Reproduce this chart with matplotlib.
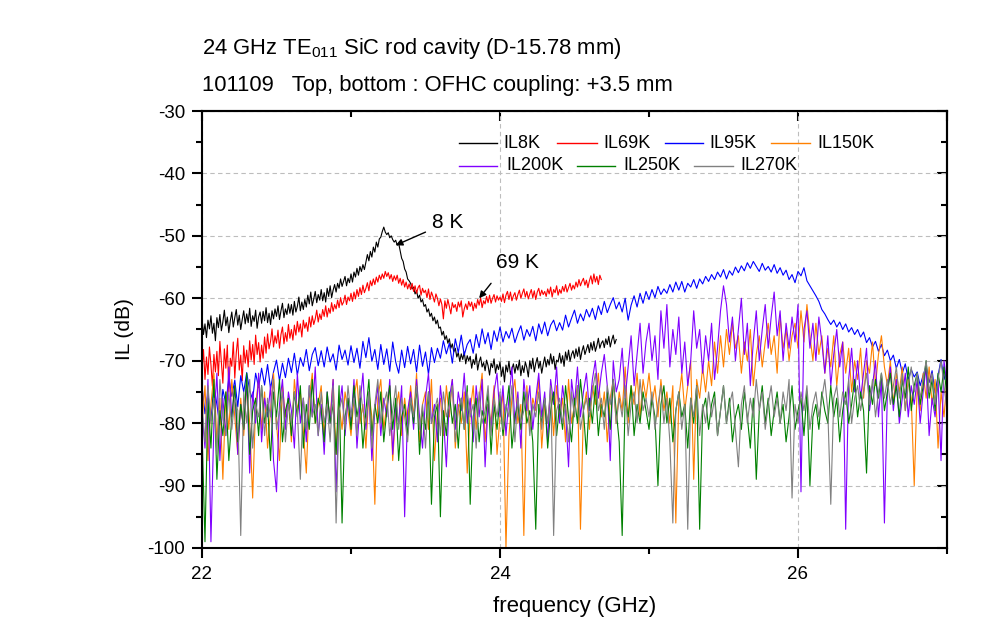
import numpy as np
import matplotlib
matplotlib.use("Agg")
import matplotlib.pyplot as plt
from matplotlib.lines import Line2D

plt.rcParams['font.family'] = ['Liberation Sans', 'DejaVu Sans']
plt.rcParams['mathtext.fontset'] = 'custom'
plt.rcParams['mathtext.rm'] = 'Liberation Sans'
plt.rcParams['mathtext.default'] = 'regular'

# ---------------- data (IL in dB) ----------------
series_labels = ["IL8K", "IL69K", "IL95K", "IL150K", "IL200K", "IL250K", "IL270K"]

f8k_start, f8k_stop = 22.0, 24.78
il_8k = [
    -63.2, -65.8, -64.1, -66.3, -63.5, -64.9, -62.8, -65.6, -64.0, -66.8,
    -63.1, -64.7, -62.6, -65.2, -63.8, -61.9, -64.4, -63.0, -65.5, -63.6,
    -62.2, -64.6, -63.1, -61.8, -64.3, -62.7, -65.0, -63.4, -62.0, -64.1,
    -62.5, -63.9, -61.6, -64.5, -62.8, -63.7, -61.9, -64.8, -63.0, -62.2,
    -64.0, -62.1, -63.6, -61.5, -63.9, -62.4, -64.2, -62.0, -63.3, -61.7,
    -62.9, -61.2, -63.4, -62.0, -60.8, -63.1, -61.7, -62.6, -60.9, -62.4,
    -61.0, -62.7, -60.5, -62.2, -61.3, -59.8, -62.0, -60.6, -61.8, -60.2,
    -61.4, -59.5, -60.9, -59.0, -61.2, -60.1, -58.9, -60.7, -59.4, -60.3,
    -58.6, -60.4, -59.1, -60.6, -58.4, -59.7, -58.0, -59.9, -58.7, -57.8,
    -59.0, -57.6, -58.4, -56.9, -58.1, -57.3, -56.5, -58.0, -56.8, -57.5,
    -56.1, -57.4, -55.8, -56.6, -55.2, -56.3, -54.9, -55.7, -54.6, -55.4,
    -54.2, -53.0, -54.0, -52.5, -53.4, -51.8, -52.6, -51.0, -51.8, -50.5,
    -50.2, -49.3, -48.6, -49.4, -49.8, -49.5, -50.3, -50.0, -50.6, -51.0,
    -50.7, -51.5, -51.2, -52.4, -53.6, -54.1, -55.3, -55.8, -56.9, -57.2,
    -57.6, -58.5, -58.2, -59.3, -58.8, -60.0, -59.5, -60.6, -60.2, -61.3,
    -61.0, -62.2, -61.7, -62.9, -62.4, -63.6, -63.0, -64.1, -63.5, -64.8,
    -64.6, -65.9, -65.3, -66.6, -66.0, -67.2, -66.5, -68.0, -67.3, -68.6,
    -68.0, -69.4, -68.7, -70.1, -68.9, -69.8, -68.6, -70.5, -69.2, -70.0,
    -69.3, -71.2, -69.8, -70.6, -68.9, -71.5, -70.2, -69.4, -71.0, -70.3,
    -71.6, -69.9, -70.8, -72.3, -70.4, -71.1, -69.7, -72.0, -70.6, -71.4,
    -70.2, -72.5, -71.0, -73.4, -70.7, -71.8, -70.1, -72.2, -71.3, -70.5,
    -72.0, -70.6, -71.5, -69.9, -72.4, -70.8, -71.9, -70.2, -71.1, -72.6,
    -70.0, -71.3, -69.6, -71.8, -70.4, -69.5, -71.2, -70.1, -72.0, -70.6,
    -69.4, -71.0, -69.8, -70.7, -68.9, -70.5, -69.3, -71.4, -69.9, -70.2,
    -68.8, -70.4, -69.2, -70.9, -68.6, -69.9, -68.3, -70.1, -69.0, -68.4,
    -69.6, -68.1, -69.3, -67.8, -69.8, -68.5, -67.6, -69.0, -68.2, -67.4,
    -68.7, -67.1, -68.3, -66.9, -68.5, -67.6, -66.4, -68.0, -67.2, -66.8,
    -67.9, -66.5, -67.4, -66.1, -67.8, -66.7, -65.9, -67.3, -66.6,
]

f69k_start, f69k_stop = 22.0, 24.68
il_69k = [
    -71.5, -68.2, -73.0, -69.4, -72.2, -67.8, -70.6, -74.1, -69.0, -71.8,
    -68.5, -72.4, -66.9, -70.3, -73.6, -68.1, -71.2, -67.5, -75.0, -69.6,
    -70.9, -67.0, -72.8, -68.7, -66.4, -71.5, -69.1, -73.2, -67.6, -70.4,
    -68.3, -71.0, -66.8, -69.9, -67.4, -70.6, -65.9, -69.0, -67.1, -70.2,
    -67.5, -69.6, -66.2, -68.8, -65.7, -68.1, -66.9, -64.9, -67.8, -66.0,
    -67.2, -65.1, -68.0, -65.8, -64.6, -67.3, -65.5, -66.9, -64.2, -66.4,
    -65.0, -66.7, -64.3, -65.9, -63.7, -65.4, -64.1, -66.2, -63.5, -64.8,
    -63.9, -65.3, -63.0, -64.6, -62.8, -64.2, -63.3, -61.9, -63.8, -62.5,
    -63.4, -61.8, -62.9, -61.2, -63.0, -61.6, -62.4, -60.7, -62.1, -61.0,
    -61.7, -60.3, -61.5, -59.9, -61.1, -60.6, -59.5, -61.0, -59.8, -60.4,
    -59.2, -60.5, -59.0, -60.1, -58.6, -59.7, -58.3, -59.4, -57.9, -59.1,
    -58.4, -57.5, -58.8, -57.2, -58.0, -56.9, -57.8, -56.6, -57.4, -56.3,
    -57.0, -56.1, -56.8, -55.7, -56.5, -55.9, -56.9, -56.2, -57.3, -56.4,
    -57.1, -56.3, -57.6, -56.8, -57.9, -57.0, -58.2, -57.4, -58.5, -57.7,
    -58.6, -57.6, -58.9, -58.0, -59.2, -58.3, -57.9, -59.5, -58.4, -59.1,
    -58.7, -59.9, -58.5, -60.2, -59.0, -59.7, -60.6, -59.3, -60.0, -61.2,
    -60.1, -61.0, -63.3, -60.4, -61.6, -60.2, -61.3, -62.5, -60.7, -61.5,
    -61.0, -62.1, -60.6, -61.4, -60.4, -63.0, -61.7, -60.9, -61.8, -60.5,
    -61.3, -60.6, -62.0, -60.8, -61.6, -60.2, -61.1, -59.9, -61.5, -60.4,
    -60.9, -59.7, -60.7, -59.5, -60.8, -60.0, -59.4, -60.6, -59.6, -60.3,
    -59.8, -60.5, -59.3, -60.7, -59.5, -58.9, -60.2, -59.0, -60.4, -59.6,
    -59.1, -60.3, -59.4, -58.7, -60.0, -59.2, -58.5, -59.8, -58.9, -60.1,
    -59.3, -58.6, -59.9, -58.8, -60.2, -59.0, -58.4, -59.6, -58.7, -59.4,
    -58.9, -59.7, -58.5, -59.3, -58.2, -59.8, -58.6, -59.1, -58.0, -59.5,
    -58.6, -59.2, -58.1, -58.9, -57.8, -59.0, -58.3, -57.6, -58.7, -57.9,
    -58.5, -57.4, -58.2, -57.0, -58.0, -57.3, -56.8, -57.9, -57.1, -58.3,
    -57.2, -56.4, -57.7, -56.1, -57.4, -56.5, -57.8, -56.3, -57.0,
]

f_start, f_stop = 22.0, 27.0
il_95k = [
    -74.0, -78.5, -75.2, -79.6, -73.8, -77.1, -80.3, -74.6, -76.9, -72.8,
    -75.7, -73.1, -77.4, -72.4, -75.0, -71.9, -74.8, -76.2, -72.0, -74.3,
    -71.2, -73.9, -70.6, -74.5, -71.8, -69.9, -73.2, -70.4, -72.7, -69.6,
    -71.9, -68.8, -72.3, -69.5, -70.9, -68.2, -71.6, -69.0, -67.9, -70.8,
    -68.4, -71.0, -67.8, -70.2, -68.9, -71.5, -67.5, -69.8, -68.3, -70.7,
    -67.6, -70.3, -68.0, -71.2, -66.9, -69.5, -66.3, -70.1, -68.2, -71.4,
    -67.4, -70.6, -68.1, -71.7, -67.0, -70.2, -72.0, -68.3, -71.1, -67.7,
    -70.5, -68.2, -71.8, -67.5, -70.9, -68.6, -72.2, -67.9, -70.3, -68.0,
    -69.6, -66.8, -68.9, -67.2, -70.4, -66.5, -68.7, -65.9, -69.1, -67.4,
    -66.6, -68.8, -65.8, -67.9, -64.9, -67.3, -65.5, -68.2, -65.2, -66.9,
    -64.6, -67.0, -65.3, -66.4, -64.8, -67.1, -65.6, -64.4, -66.7, -65.0,
    -66.1, -64.5, -66.8, -64.1, -65.7, -63.8, -66.0, -64.3, -63.5, -65.2,
    -63.9, -65.1, -62.7, -64.6, -63.2, -61.9, -64.0, -62.5, -63.6, -61.8,
    -63.0, -61.6, -63.4, -61.2, -62.6, -60.5, -62.3, -61.0, -59.9, -61.7,
    -60.6, -62.2, -60.0, -63.5, -61.1, -59.6, -61.4, -59.2, -60.8, -58.9,
    -60.2, -58.6, -59.9, -58.1, -59.4, -58.5, -59.2, -57.8, -59.0, -57.4,
    -58.7, -57.3, -59.0, -57.6, -58.2, -57.0, -58.4, -56.9, -57.7, -56.5,
    -57.3, -56.2, -57.0, -55.8, -56.6, -55.4, -56.9, -55.6, -56.3, -55.0,
    -55.9, -54.8, -55.6, -54.3, -55.2, -54.1, -54.9, -55.7, -54.4, -55.5,
    -54.9, -55.8, -54.6, -56.0, -55.1, -56.3, -55.5, -57.0, -56.2, -57.5,
    -55.7, -56.4, -55.1, -57.2, -58.0, -58.8, -59.6, -60.5, -61.8, -62.5,
    -63.4, -64.2, -63.5, -64.6, -63.8, -65.0, -64.1, -65.4, -64.7, -65.8,
    -65.0, -66.2, -65.4, -67.1, -66.3, -67.8, -66.9, -68.5, -67.4, -69.2,
    -68.3, -70.0, -69.1, -71.2, -69.8, -72.0, -70.5, -73.1, -71.4, -72.6,
    -71.8, -74.0, -72.3, -70.9, -73.5, -71.6, -75.2, -72.4, -69.8, -73.0,
    -71.5,
]

il_150k = [
    -80, -74, -86, -77, -72, -83, -76, -89, -75, -81,
    -73, -79, -85, -76, -82, -74, -80, -92, -77, -73,
    -81, -75, -84, -78, -72, -80, -86, -74, -79, -76,
    -83, -73, -78, -75, -81, -88, -76, -72, -80, -77,
    -74, -82, -76, -79, -73, -85, -77, -81, -75, -78,
    -82, -76, -73, -80, -77, -84, -75, -79, -93, -76,
    -73, -81, -77, -74, -86, -78, -75, -82, -76, -80,
    -74, -79, -72, -83, -77, -75, -81, -73, -86, -78,
    -76, -82, -74, -79, -73, -84, -77, -80, -75, -88,
    -78, -74, -81, -76, -72, -83, -77, -80, -74, -85,
    -79, -75, -100, -82, -76, -73, -80, -77, -98, -74,
    -81, -76, -78, -73, -84, -77, -80, -75, -82, -74,
    -79, -76, -83, -73, -80, -77, -74, -97, -78, -75,
    -81, -74, -77, -72, -79, -75, -83, -76, -73, -80,
    -75, -78, -71, -80, -74, -77, -72, -79, -73, -76,
    -72, -77, -74, -79, -73, -78, -75, -80, -74, -96,
    -76, -72, -78, -74, -70, -89, -73, -76, -71, -75,
    -70, -74, -67, -72, -66, -71, -65, -69, -64, -68,
    -66, -72, -67, -70, -65, -74, -69, -66, -71, -67,
    -64, -69, -66, -72, -63, -68, -65, -70, -66, -64,
    -68, -62, -67, -61, -66, -70, -64, -69, -66, -72,
    -68, -71, -66, -74, -69, -67, -72, -68, -75, -70,
    -73, -68, -76, -70, -72, -67, -74, -69, -66, -71,
    -74, -70, -77, -72, -75, -71, -78, -73, -76, -90,
    -74, -78, -72, -76, -71, -77, -73, -84, -75, -79,
    -73,
]

il_200k = [
    -78, -84, -73, -99, -80, -72, -86, -76, -82, -71,
    -79, -74, -85, -77, -81, -73, -88, -75, -80, -72,
    -83, -76, -79, -74, -86, -91, -77, -73, -81, -75,
    -78, -84, -72, -80, -76, -83, -74, -79, -71, -82,
    -77, -85, -75, -80, -73, -91, -78, -74, -82, -76,
    -80, -73, -84, -77, -72, -81, -75, -86, -78, -74,
    -82, -76, -79, -73, -85, -77, -80, -74, -95, -78,
    -75, -81, -73, -79, -84, -76, -72, -80, -77, -83,
    -74, -79, -87, -76, -73, -81, -75, -78, -72, -80,
    -76, -83, -74, -79, -73, -87, -77, -81, -75, -72,
    -79, -74, -82, -76, -71, -80, -75, -84, -73, -78,
    -74, -81, -76, -72, -79, -75, -83, -73, -77, -71,
    -80, -74, -78, -87, -73, -77, -71, -79, -75, -72,
    -78, -73, -70, -76, -72, -69, -74, -86, -70, -75,
    -73, -68, -76, -71, -66, -74, -69, -64, -72, -67,
    -64, -70, -66, -73, -62, -68, -61, -71, -65, -69,
    -63, -72, -67, -74, -70, -62, -68, -65, -72, -66,
    -70, -64, -73, -68, -62, -58, -61, -67, -63, -70,
    -65, -60, -69, -64, -74, -67, -62, -70, -65, -61,
    -68, -63, -59, -66, -62, -70, -64, -68, -63, -67,
    -61, -91, -65, -62, -68, -64, -70, -63, -67, -72,
    -66, -74, -69, -65, -71, -67, -97, -73, -68, -75,
    -70, -76, -72, -68, -78, -74, -70, -79, -73, -96,
    -75, -71, -78, -73, -80, -76, -72, -79, -74, -77,
    -73, -80, -75, -71, -82, -76, -79, -73, -86, -70,
    -74,
]

il_250k = [
    -81, -99, -76, -84, -73, -89, -78, -82, -75, -86,
    -79, -74, -83, -77, -81, -72, -85, -78, -76, -82,
    -74, -80, -77, -86, -75, -79, -73, -83, -78, -76,
    -82, -75, -79, -74, -84, -77, -81, -73, -80, -76,
    -78, -83, -75, -80, -77, -85, -74, -96, -79, -76,
    -81, -74, -79, -76, -84, -78, -73, -82, -77, -80,
    -75, -83, -78, -74, -81, -76, -86, -79, -77, -82,
    -76, -80, -74, -85, -78, -81, -75, -93, -79, -77,
    -95, -78, -82, -75, -80, -77, -84, -76, -81, -74,
    -93, -79, -76, -83, -78, -80, -75, -85, -77, -81,
    -76, -82, -78, -74, -84, -79, -77, -81, -75, -80,
    -78, -83, -97, -77, -80, -76, -84, -78, -75, -82,
    -77, -81, -74, -79, -83, -76, -80, -73, -78, -85,
    -76, -80, -74, -82, -77, -79, -75, -81, -73, -78,
    -83, -98, -76, -79, -74, -82, -77, -80, -75, -78,
    -81, -76, -79, -90, -77, -74, -80, -76, -83, -78,
    -75, -79, -77, -84, -76, -80, -74, -97, -78, -76,
    -81, -77, -75, -82, -78, -74, -80, -76, -83, -79,
    -77, -81, -75, -79, -84, -76, -89, -78, -74, -80,
    -76, -82, -78, -75, -80, -77, -83, -79, -74, -81,
    -78, -76, -82, -75, -90, -79, -77, -81, -75, -78,
    -80, -74, -79, -76, -83, -78, -75, -80, -77, -73,
    -79, -75, -78, -88, -74, -77, -73, -76, -72, -78,
    -75, -72, -77, -74, -79, -73, -76, -71, -78, -74,
    -72, -77, -74, -70, -76, -73, -78, -72, -75, -71,
    -76,
]

il_270k = [
    -77, -83, -74, -80, -76, -85, -73, -79, -82, -75,
    -81, -76, -78, -98, -75, -80, -73, -84, -77, -79,
    -74, -82, -76, -79, -73, -81, -78, -75, -83, -77,
    -80, -75, -78, -89, -76, -81, -74, -79, -77, -82,
    -75, -80, -77, -83, -74, -96, -78, -76, -81, -74,
    -79, -76, -82, -74, -78, -80, -75, -84, -77, -73,
    -80, -77, -75, -82, -78, -74, -81, -76, -79, -83,
    -76, -79, -74, -81, -77, -84, -75, -80, -78, -76,
    -82, -75, -79, -77, -74, -83, -78, -76, -81, -75,
    -79, -77, -84, -75, -80, -78, -74, -82, -76, -79,
    -75, -81, -77, -79, -74, -83, -76, -80, -78, -75,
    -82, -77, -79, -75, -81, -76, -80, -74, -98, -78,
    -76, -80, -77, -83, -75, -79, -74, -81, -78, -76,
    -79, -75, -72, -78, -76, -81, -74, -77, -73, -80,
    -76, -79, -74, -82, -77, -75, -80, -73, -78, -76,
    -79, -75, -81, -77, -74, -80, -76, -83, -96, -78,
    -75, -81, -77, -97, -76, -79, -74, -82, -77, -80,
    -75, -79, -76, -82, -78, -74, -80, -77, -75, -81,
    -87, -77, -74, -80, -76, -79, -73, -78, -75, -81,
    -77, -74, -79, -76, -80, -75, -78, -73, -92, -77,
    -80, -75, -78, -74, -81, -77, -75, -79, -76, -73,
    -78, -93, -76, -74, -79, -75, -77, -73, -80, -76,
    -74, -78, -75, -72, -77, -73, -79, -75, -72, -76,
    -73, -77, -74, -71, -76, -72, -78, -74, -71, -75,
    -72, -76, -73, -70, -75, -72, -77, -73, -70, -74,
    -78,
]

x_ticks = [22, 24, 26]
x_tick_labels = ["22", "24", "26"]
y_ticks = [-100, -90, -80, -70, -60, -50, -40, -30]
y_tick_labels = ["-100", "-90", "-80", "-70", "-60", "-50", "-40", "-30"]

# ---------------- figure ----------------
W, H = 1005, 639
fig = plt.figure(figsize=(W / 100, H / 100), dpi=100)
ax = fig.add_axes([202 / W, (H - 548) / H, (947 - 202) / W, (548 - 111) / H])

colors = ["#000000", "#ff0000", "#0000ff", "#ff8000", "#8000ff", "#008000", "#808080"]

series = [
    (f8k_start, f8k_stop, il_8k),
    (f69k_start, f69k_stop, il_69k),
    (f_start, f_stop, il_95k),
    (f_start, f_stop, il_150k),
    (f_start, f_stop, il_200k),
    (f_start, f_stop, il_250k),
    (f_start, f_stop, il_270k),
]
for (a, b, vals), c, lab in zip(series, colors, series_labels):
    fx = np.linspace(a, b, len(vals))
    ax.plot(fx, vals, color=c, lw=0.8, label=lab)

ax.set_xlim(22, 27)
ax.set_ylim(-100, -30)
ax.set_xticks(x_ticks)
ax.set_xticklabels(x_tick_labels)
ax.set_xticks([23, 25, 27], minor=True)
ax.set_yticks(y_ticks)
ax.set_yticklabels(y_tick_labels)
ax.set_yticks(np.arange(-95, -30, 10), minor=True)

for s in ax.spines.values():
    s.set_linewidth(1.5)

ax.tick_params(axis='both', which='major', direction='out', length=7, width=1.5,
               labelsize=13.5, pad=5, top=False, right=False)
ax.tick_params(axis='both', which='minor', direction='out', length=4, width=1.5,
               top=False, right=False)
ax.tick_params(axis='x', which='major', pad=6)

# inward ticks on top and right
sec_x = ax.secondary_xaxis('top')
sec_x.set_xticks([22, 24, 26, 27])
sec_x.set_xticks([23, 25], minor=True)
sec_x.tick_params(which='major', direction='in', length=7, width=1.5, labeltop=False)
sec_x.tick_params(which='minor', direction='in', length=4, width=1.5)
sec_x.spines['top'].set_linewidth(1.5)
sec_y = ax.secondary_yaxis('right')
sec_y.set_yticks(y_ticks)
sec_y.set_yticks(np.arange(-95, -30, 10), minor=True)
sec_y.tick_params(which='major', direction='in', length=7, width=1.5, labelright=False)
sec_y.tick_params(which='minor', direction='in', length=4, width=1.5)
sec_y.spines['right'].set_linewidth(1.5)

ax.grid(True, which='major', color='#bdbdbd', lw=0.8, linestyle=(0, (4, 3)))
ax.set_axisbelow(True)

ax.set_xlabel("frequency (GHz)", fontsize=16, labelpad=9)
ax.set_ylabel("IL (dB)", fontsize=15, labelpad=10)

# titles
fig.text(202 / W, 1 - 54 / H, r"24 GHz TE$_{011}$ SiC rod cavity (D-15.78 mm)",
         fontsize=15.8, ha='left', va='baseline')
fig.text(202 / W, 1 - 91 / H, "101109   Top, bottom : OFHC coupling: +3.5 mm",
         fontsize=15.8, ha='left', va='baseline')

# annotations
ax.annotate("", xy=(23.30, -51.5), xytext=(23.50, -49.4),
            arrowprops=dict(arrowstyle='-|>', color='black', lw=1.0,
                            mutation_scale=10, shrinkA=0, shrinkB=0))
ax.text(23.647, -47.9, "8 K", fontsize=15, ha='center', va='center')
ax.annotate("", xy=(23.86, -60.0), xytext=(23.94, -57.6),
            arrowprops=dict(arrowstyle='-|>', color='black', lw=1.0,
                            mutation_scale=10, shrinkA=0, shrinkB=0))
ax.text(24.12, -54.2, "69 K", fontsize=15, ha='center', va='center')

# legend (two rows, drawn manually)
legend_rows = [
    (143, [(459, 497, 503), (557, 597, 603), (665, 703, 709), (771, 810, 817)], [0, 1, 2, 3]),
    (166, [(459, 497, 506), (577, 615, 623), (694, 733, 740)], [4, 5, 6]),
]
for yy, slots, idxs in legend_rows:
    for (x0, x1, xt), i in zip(slots, idxs):
        fig.add_artist(Line2D([x0 / W, x1 / W], [1 - yy / H, 1 - yy / H],
                              color=colors[i], lw=1.0, transform=fig.transFigure))
        fig.text(xt / W, 1 - yy / H, series_labels[i], fontsize=13,
                 ha='left', va='center')

fig.savefig("out.png", dpi=100)
